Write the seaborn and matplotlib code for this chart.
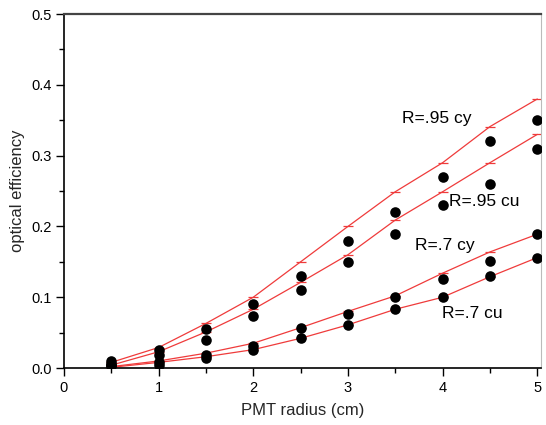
import numpy as np
import pandas as pd
import matplotlib
matplotlib.use("Agg")
import matplotlib.pyplot as plt
import seaborn as sns
from matplotlib.ticker import MultipleLocator

radius = [0.5, 1.0, 1.5, 2.0, 2.5, 3.0, 3.5, 4.0, 4.5, 5.0]

# simulated curves (red lines)
sim_95cy = [0.008, 0.029, 0.063, 0.100, 0.150, 0.200, 0.249, 0.290, 0.341, 0.380]
sim_95cu = [0.004, 0.023, 0.051, 0.083, 0.121, 0.160, 0.209, 0.249, 0.290, 0.330]
sim_7cy = [0.002, 0.010, 0.021, 0.035, 0.057, 0.080, 0.102, 0.134, 0.164, 0.189]
sim_7cu = [0.001, 0.008, 0.016, 0.026, 0.042, 0.061, 0.083, 0.100, 0.129, 0.156]

# measured points (black dots)
meas_95cy = [0.010, 0.025, 0.055, 0.090, 0.130, 0.180, 0.221, 0.270, 0.321, 0.350]
meas_95cu = [0.006, 0.018, 0.040, 0.073, 0.110, 0.150, 0.190, 0.230, 0.260, 0.310]
meas_7cy = [0.004, 0.008, 0.018, 0.031, 0.056, 0.076, 0.100, 0.126, 0.151, 0.189]
meas_7cu = [0.003, 0.005, 0.014, 0.025, 0.042, 0.061, 0.083, 0.100, 0.130, 0.156]

series_names = ["R=.95 cy", "R=.95 cu", "R=.7 cy", "R=.7 cu"]
label_x = [3.57, 4.07, 3.71, 3.99]
label_y = [0.352, 0.235, 0.173, 0.077]

sim = pd.DataFrame({
    "radius": radius * 4,
    "eff": sim_95cy + sim_95cu + sim_7cy + sim_7cu,
    "series": sum([[n] * len(radius) for n in series_names], []),
})
meas = pd.DataFrame({
    "radius": radius * 4,
    "eff": meas_95cy + meas_95cu + meas_7cy + meas_7cu,
    "series": sum([[n] * len(radius) for n in series_names], []),
})

sns.set_theme(style="ticks")
plt.rcParams["font.family"] = ["Liberation Sans", "DejaVu Sans"]

fig = plt.figure(figsize=(5.46, 4.25), dpi=100)
ax = fig.add_axes([0.117, 0.134, 0.874, 0.833])

sns.lineplot(data=sim, x="radius", y="eff", units="series", estimator=None,
             color="#ef3b3b", linewidth=0.9, marker="_", markersize=7,
             markeredgewidth=0.9, markeredgecolor="#ef3b3b", ax=ax, legend=False)
sns.scatterplot(data=meas, x="radius", y="eff", color="black", s=58,
                edgecolor="black", linewidth=0, ax=ax, legend=False, zorder=3)

for name, tx, ty in zip(series_names, label_x, label_y):
    ax.text(tx, ty, name, fontsize=12.5, va="center", ha="left", color="black")

ax.set_xlim(0, 5.04)
ax.set_ylim(0, 0.5)
ax.xaxis.set_major_locator(MultipleLocator(1))
ax.xaxis.set_minor_locator(MultipleLocator(0.5))
ax.yaxis.set_major_locator(MultipleLocator(0.1))
ax.yaxis.set_minor_locator(MultipleLocator(0.05))
ax.set_xticks([0, 1, 2, 3, 4, 5])
ax.set_xticklabels(["0", "1", "2", "3", "4", "5"])
ax.set_yticklabels([f"{v:.1f}" for v in ax.get_yticks()])

ax.tick_params(axis="both", which="major", direction="out", length=6, width=1,
               labelsize=10.5, colors="black", pad=3)
ax.tick_params(axis="both", which="minor", direction="out", length=3.5, width=1, colors="black")

ax.set_xlabel("PMT radius (cm)", fontsize=12, labelpad=6)
ax.set_ylabel("optical efficiency", fontsize=12, labelpad=4)

for side in ["left", "bottom"]:
    ax.spines[side].set_color("black")
    ax.spines[side].set_linewidth(1.2)
ax.spines["top"].set_visible(True)
ax.spines["top"].set_color("#444444")
ax.spines["top"].set_linewidth(1.6)
ax.spines["right"].set_visible(True)
ax.spines["right"].set_color("#bbbbbb")
ax.spines["right"].set_linewidth(0.8)

fig.savefig("out.png", dpi=100)
